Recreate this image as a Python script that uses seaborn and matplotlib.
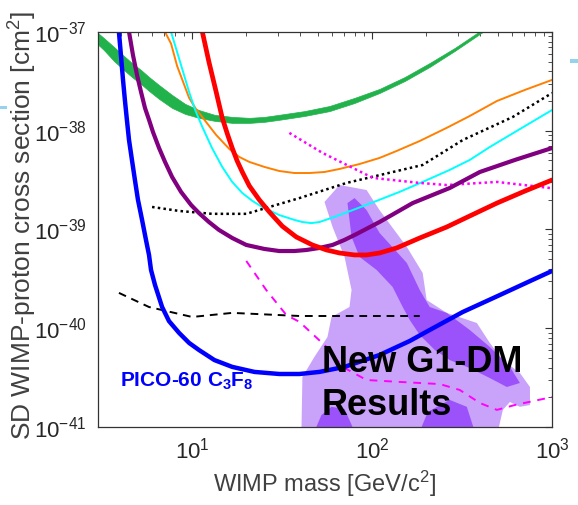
import matplotlib
matplotlib.use("Agg")
import matplotlib.pyplot as plt
from matplotlib.patches import Rectangle
import seaborn as sns
import pandas as pd

# WIMP mass [GeV/c^2] and SD WIMP-proton cross section [cm^2]
green_mass = [2.74, 3.23, 3.68, 4.18, 4.63, 5.20, 5.76, 6.55, 7.74, 9.14, 10.9, 13.3, 16.7, 20.8,
              25.2, 30.5, 42.1, 58.0, 79.9, 110, 152, 209, 288, 397, 513]
green_hi = [1.12e-37, 8.69e-38, 7.05e-38, 5.71e-38, 4.85e-38, 4.12e-38, 3.5e-38, 2.9e-38, 2.3e-38,
            1.87e-38, 1.62e-38, 1.45e-38, 1.38e-38, 1.35e-38, 1.38e-38, 1.45e-38, 1.58e-38, 1.78e-38,
            2.15e-38, 2.65e-38, 3.5e-38, 4.85e-38, 6.89e-38, 1.02e-37, 1.39e-37]
green_lo = [8.69e-38, 6.58e-38, 5.08e-38, 4.12e-38, 3.5e-38, 2.97e-38, 2.53e-38, 2.1e-38, 1.7e-38,
            1.48e-38, 1.35e-38, 1.26e-38, 1.2e-38, 1.2e-38, 1.23e-38, 1.29e-38, 1.41e-38, 1.58e-38,
            1.91e-38, 2.41e-38, 3.19e-38, 4.43e-38, 6.43e-38, 9.55e-38, 1.32e-37]

orange_mass = [7.07, 7.64, 8.25, 8.91, 9.62, 10.5, 11.7, 13.6, 16.1, 18.3, 20.8, 25.2, 30.5, 37.0,
               44.9, 54.4, 65.9, 85.2, 110, 137, 184, 260, 349, 494, 707, 1000]
orange_sig = [1.0e-37, 7.6e-38, 4.53e-38, 3.12e-38, 2.15e-38, 1.66e-38, 1.29e-38, 9.06e-39, 6.53e-39,
              5.42e-39, 4.83e-39, 4.3e-39, 3.91e-39, 3.73e-39, 3.73e-39, 3.82e-39, 4.1e-39, 4.6e-39,
              5.3e-39, 6.24e-39, 7.87e-39, 1.07e-38, 1.41e-38, 2.0e-38, 2.59e-38, 3.27e-38]

cyan_mass = [7.64, 8.25, 8.91, 9.62, 10.4, 11.4, 12.9, 14.7, 16.7, 19.0, 21.6, 24.5, 30.5, 37.0, 41.0,
             46.0, 51.0, 61.8, 77.9, 110, 142, 191, 270, 349, 451, 663, 1000]
cyan_sig = [1.0e-37, 6.27e-38, 3.94e-38, 2.47e-38, 1.62e-38, 1.09e-38, 6.68e-39, 4.3e-39, 3.03e-39,
            2.34e-39, 1.95e-39, 1.69e-39, 1.4e-39, 1.25e-39, 1.19e-39, 1.16e-39, 1.19e-39, 1.34e-39,
            1.57e-39, 2.0e-39, 2.4e-39, 3.03e-39, 4.01e-39, 5.06e-39, 6.84e-39, 1.04e-38, 1.62e-38]

red_mass = [11.4, 12.4, 13.6, 14.7, 15.7, 16.7, 17.8, 19.0, 20.8, 23.6, 26.9, 31.7, 37.9, 46.6, 55.8,
            65.9, 79.9, 93.2, 110, 137, 184, 260, 349, 494, 707, 1000]
red_sig = [1.0e-37, 4.97e-38, 2.47e-38, 1.35e-38, 9.27e-39, 6.68e-39, 4.94e-39, 3.82e-39, 2.76e-39,
           2.0e-39, 1.5e-39, 1.08e-39, 8.4e-40, 6.97e-40, 6.2e-40, 5.78e-40, 5.52e-40, 5.52e-40,
           5.78e-40, 6.5e-40, 8.2e-40, 1.06e-39, 1.37e-39, 1.85e-39, 2.45e-39, 3.17e-39]

purple_mass = [4.46, 4.69, 4.94, 5.20, 5.47, 5.76, 6.06, 6.55, 7.07, 7.74, 8.68, 9.87, 10.9, 12.4,
               14.1, 16.7, 20.0, 25.2, 30.5, 37.0, 43.2, 51.0, 60.3, 70.3, 82.0, 110, 168, 270, 397,
               622, 1000]
purple_sig = [1.0e-37, 5.85e-38, 3.67e-38, 2.47e-38, 1.7e-38, 1.29e-38, 9.7e-39, 6.68e-39, 4.83e-39,
              3.4e-39, 2.4e-39, 1.77e-39, 1.47e-39, 1.19e-39, 9.89e-40, 8.2e-40, 6.97e-40, 6.35e-40,
              6.05e-40, 6.05e-40, 6.2e-40, 6.5e-40, 6.97e-40, 7.84e-40, 9.0e-40, 1.19e-39, 1.85e-39,
              2.63e-39, 3.82e-39, 5.06e-39, 6.68e-39]

pico_mass = [3.92, 4.02, 4.13, 4.23, 4.34, 4.46, 4.63, 4.81, 5.00, 5.27, 5.54, 5.76, 5.91, 6.22, 6.81,
             7.44, 8.47, 9.62, 10.9, 13.3, 16.7, 22.2, 30.5, 39.5, 51.0, 70.3, 110, 162, 209, 319,
             513, 754, 1000]
pico_sig = [1.0e-37, 5.85e-38, 3.27e-38, 2.05e-38, 1.29e-38, 8.05e-39, 5.06e-39, 3.17e-39, 2.0e-39,
            1.25e-39, 7.84e-40, 5.52e-40, 3.89e-40, 2.74e-40, 1.64e-40, 1.18e-40, 8.95e-41, 7.1e-41,
            6.03e-41, 4.76e-41, 4.06e-41, 3.61e-41, 3.44e-41, 3.44e-41, 3.61e-41, 4.06e-41, 5.36e-41,
            7.43e-41, 9.6e-41, 1.46e-40, 2.17e-40, 3.0e-40, 3.8e-40]

kdot_mass = [5.99, 8.47, 12.9, 20.0, 39.5, 72.1, 191, 319, 606, 1000]
kdot_sig = [1.69e-39, 1.54e-39, 1.44e-39, 1.44e-39, 2.08e-39, 2.96e-39, 4.5e-39, 8.05e-39, 1.38e-38, 2.41e-38]

mdot_mass = [34.7, 53.0, 101, 184, 260, 494, 975]
mdot_sig = [9.5e-39, 5.96e-39, 3.33e-39, 2.96e-39, 2.82e-39, 3.03e-39, 2.63e-39]

kdash_mass = [3.92, 5.76, 10.0, 16.7, 39.5, 184]
kdash_sig = [2.28e-40, 1.64e-40, 1.3e-40, 1.43e-40, 1.33e-40, 1.33e-40]

mdash_mass = [20.0, 25.8, 33.4, 39.5, 55.8, 68.5, 93.2, 142, 238, 307, 397, 494, 622, 1000]
mdash_sig = [4.8e-40, 2.44e-40, 1.36e-40, 1.16e-40, 6.46e-41, 4.06e-41, 2.99e-41, 2.86e-41, 2.72e-41,
             2.37e-41, 1.75e-41, 1.49e-41, 1.67e-41, 2.01e-41]

# G1-DM allowed regions
light_mass = [40.5, 41.0, 47.8, 56.5, 59.5, 74.9, 76.9, 70.3, 60.3, 54.4, 65.9, 93.2, 110, 156, 191, 201,
              260, 382, 451, 533, 663, 754, 754, 663, 583, 533, 500]
light_sig = [9.0e-42, 3.21e-41, 5.12e-41, 8.15e-41, 1.3e-40, 1.64e-40, 2.44e-40, 5.27e-40, 1.06e-39,
             1.9e-39, 2.82e-39, 2.51e-39, 1.57e-39, 6.65e-40, 3.63e-40, 1.93e-40, 1.43e-40, 1.13e-40,
             7.1e-41, 4.76e-41, 3.52e-41, 2.54e-41, 1.67e-41, 1.6e-41, 1.79e-41, 1.49e-41, 9.0e-42]
dark_mass = [73.0, 79.9, 93.2, 110, 156, 184, 209, 260, 349, 451, 583, 663, 561, 451, 349, 270, 223,
             184, 162, 148, 130, 106, 85.2, 76.9]
dark_sig = [1.85e-39, 2.08e-39, 1.57e-39, 9.23e-40, 4.58e-40, 2.44e-40, 1.64e-40, 1.43e-40, 9.6e-41,
            6.46e-41, 4.06e-41, 2.79e-41, 2.54e-41, 3.13e-41, 3.95e-41, 4.76e-41, 6.03e-41, 8.55e-41,
            1.21e-40, 1.64e-40, 2.62e-40, 3.89e-40, 5.27e-40, 8.4e-40]
blob1_mass = [47.8, 52.3, 59.5, 70.3, 79.9]
blob1_sig = [9.0e-42, 1.32e-41, 1.6e-41, 1.52e-41, 9.0e-42]
blob2_mass = [184, 204, 270, 336, 372]
blob2_sig = [9.0e-42, 1.42e-41, 1.88e-41, 1.6e-41, 9.0e-42]

sns.set_theme(style="white")
plt.rcParams["font.family"] = ["Liberation Sans", "DejaVu Sans"]
plt.rcParams["mathtext.default"] = "regular"

fig = plt.figure(figsize=(5.78, 5.05), dpi=100)
ax = fig.add_axes([0.1696, 0.1545, 0.7855, 0.7822])
ax.set_xscale("log")
ax.set_yscale("log")

light = "#c9a3fa"
dark = "#9b52fa"
ax.fill(light_mass, light_sig, color=light, lw=0, zorder=1)
ax.fill(dark_mass, dark_sig, color=dark, lw=0, zorder=1.1)
ax.fill(blob1_mass, blob1_sig, color=dark, lw=0, zorder=1.1)
ax.fill(blob2_mass, blob2_sig, color=dark, lw=0, zorder=1.1)

green = "#22b24c"
ax.fill_between(green_mass, green_lo, green_hi, color=green, lw=0.5, edgecolor=green, zorder=2)


def curve(m, s, color, lw, ls="-"):
    df = pd.DataFrame({"mass": m, "sigma": s})
    sns.lineplot(data=df, x="mass", y="sigma", ax=ax, color=color, linewidth=lw,
                 linestyle=ls, sort=False, estimator=None, legend=False)


curve(orange_mass, orange_sig, "#ff8000", 1.4)
curve(cyan_mass, cyan_sig, "#00ffff", 1.4)
curve(kdot_mass, kdot_sig, "black", 1.8, (0, (1, 1.3)))
curve(mdot_mass, mdot_sig, "#ff00ff", 1.8, (0, (1, 1.3)))
curve(kdash_mass, kdash_sig, "black", 1.4, (0, (4, 3)))
curve(mdash_mass, mdash_sig, "#ff00ff", 1.4, (0, (4, 3.5)))
curve(purple_mass, purple_sig, "#800080", 3.0)
curve(red_mass, red_sig, "#ff0000", 3.4)
curve(pico_mass, pico_sig, "#0000ff", 3.2)

ax.set_xlim(3, 1000)
ax.set_ylim(1e-41, 1e-37)

ax.text(0.048, 0.101, "PICO-60 C$_3$F$_8$", transform=ax.transAxes, color="#0000ff",
        fontsize=15, fontweight="bold", ha="left", va="baseline", zorder=5)
ax.text(0.493, 0.139, "New G1-DM", transform=ax.transAxes, color="black",
        fontsize=26, fontweight="bold", ha="left", va="baseline", zorder=5)
ax.text(0.493, 0.030, "Results", transform=ax.transAxes, color="black",
        fontsize=26, fontweight="bold", ha="left", va="baseline", zorder=5)

ax.set_xlabel("WIMP mass [GeV/c$^2$]", fontsize=17, color="#404040")
ax.set_ylabel("SD WIMP-proton cross section [cm$^2$]", fontsize=19, color="#404040")
ax.xaxis.set_label_coords(0.498, -0.105)
ax.yaxis.set_label_coords(-0.13, 0.51)

ax.tick_params(which="both", direction="in", top=True, right=True, color="#333333",
               labelcolor="#262626", labelsize=16)
ax.tick_params(which="major", length=5, width=0.8, pad=8)
ax.tick_params(which="minor", length=3, width=0.6)
for sp in ax.spines.values():
    sp.set_color("#333333")
    sp.set_linewidth(0.9)

# light blue slide marks at the figure edges
fig.add_artist(Rectangle((0.0, 0.784), 0.012, 0.006, transform=fig.transFigure, color="#95d3ec", lw=0))
fig.add_artist(Rectangle((0.986, 0.875), 0.014, 0.008, transform=fig.transFigure, color="#95d3ec", lw=0))

fig.savefig("out.png", dpi=100)
plt.close(fig)
